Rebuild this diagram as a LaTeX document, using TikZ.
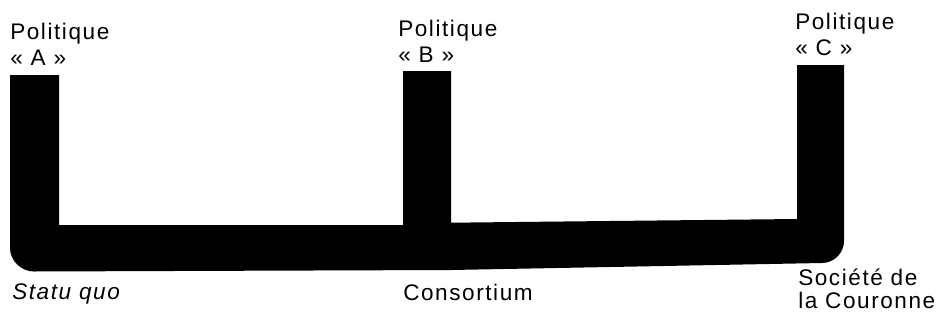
\documentclass[tikz,border=0pt]{standalone}
\usepackage{fontspec}
\setmainfont{Liberation Sans}[LetterSpace=7]
\tikzset{
  bar/.style={fill=black},
  lbl/.style={anchor=base west, inner sep=0pt, align=left, font=\fontsize{17}{19.5}\selectfont},
}
\begin{document}
\begin{tikzpicture}[x=0.0265cm, y=-0.0265cm]
  \useasboundingbox (0,0) rectangle (938,322);
  % the three policies joined by one thick bar
  \fill[bar] (10,75) -- (59,75) -- (59,225) -- (403,225) -- (403,71) -- (451,71)
    -- (451,222.7) -- (797,219) -- (797,65) -- (844,65) -- (844,241)
    .. controls (844,253) and (834,263) .. (822,263) -- (451,270) -- (34,271.5)
    .. controls (21,271.5) and (10,260.5) .. (10,248) -- cycle;
  % labels (base anchor = last line)
  \node[lbl] (polA) at (10,65) {Politique\\«~A~»};
  \node[lbl] (polB) at (398,62) {Politique\\«~B~»};
  \node[lbl] (polC) at (795,55) {Politique\\«~C~»};
  \node[lbl, font=\fontsize{17}{19.5}\selectfont\itshape] (statu) at (12,299) {Statu quo};
  \node[lbl] (consort) at (403,300) {Consortium};
  \node[lbl, font=\fontsize{17}{17.3}\selectfont] (societe) at (798,308) {Société de\\la Couronne};
\end{tikzpicture}
\end{document}
